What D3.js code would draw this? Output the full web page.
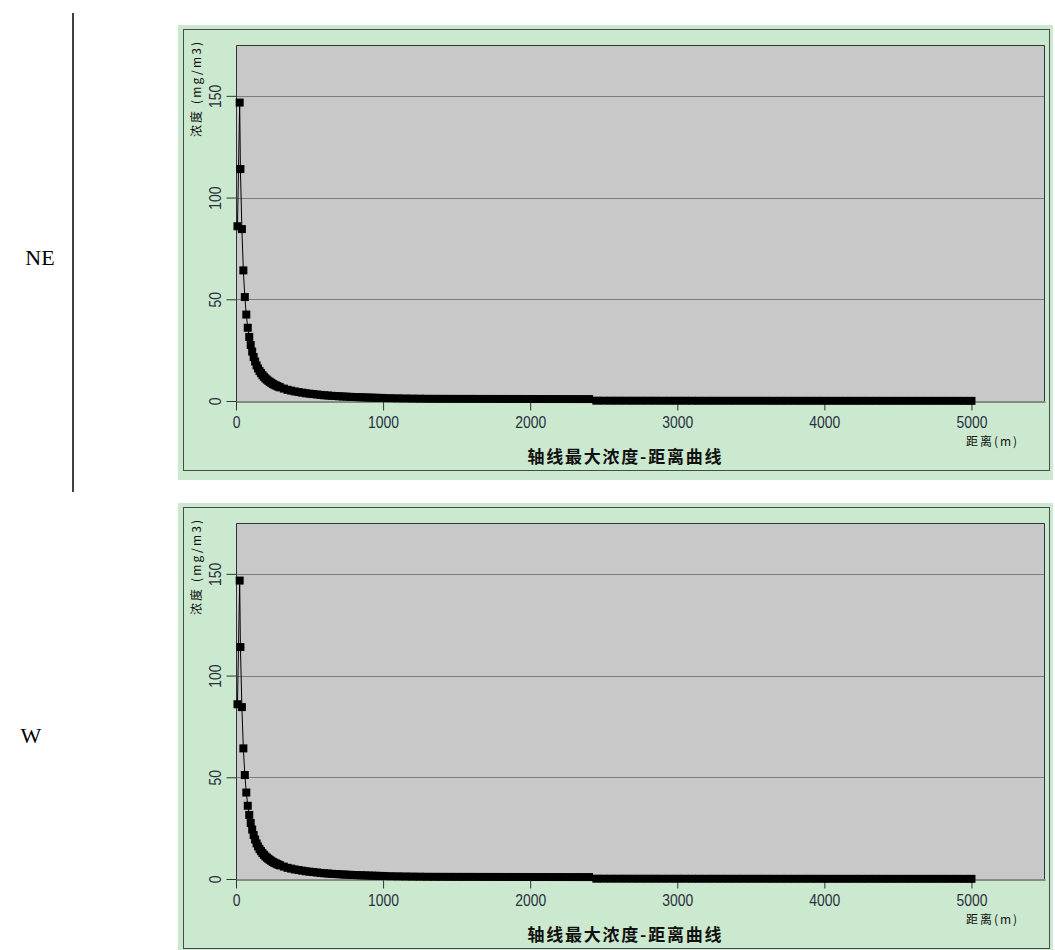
<!DOCTYPE html>
<html>
<head>
<meta charset="utf-8">
<title>轴线最大浓度-距离曲线</title>
<script src="https://cdn.jsdelivr.net/npm/d3@7"></script>
<style>
body { margin: 0; background: #fff; }
</style>
</head>
<body>
<script>

// values (distance in m, concentration in mg/m3)
var nearDist = [10, 25, 30, 40, 50, 60, 70, 80, 90, 100, 110, 120, 130, 140, 150,
                160, 170, 180, 190, 200, 210, 220, 230, 240, 250, 260, 270, 280, 290, 300];
var nearConc = [85.9, 146.7, 114.0, 84.5, 64.2, 51.1, 42.5, 36.0, 31.5, 27.5, 24.3, 21.6, 19.4, 17.5, 16.0,
                14.7, 13.7, 12.7, 11.9, 11.1, 10.5, 9.9, 9.4, 8.9, 8.4, 8.0, 7.7, 7.3, 7.0, 6.7];

var midDist = [325, 350, 375, 400, 425, 450, 475, 500, 525, 550, 575, 600, 625, 650,
               675, 700, 725, 750, 775, 800, 825, 850, 875, 900, 925, 950, 975, 1000];
var midConc = [6.1, 5.5, 5.1, 4.7, 4.4, 4.1, 3.8, 3.6, 3.4, 3.2, 3.0, 2.8, 2.7, 2.55,
               2.44, 2.33, 2.23, 2.13, 2.05, 1.97, 1.89, 1.83, 1.76, 1.70, 1.64, 1.59, 1.54, 1.49];

var farDist = [1050, 1100, 1150, 1200, 1250, 1300, 1350, 1400, 1450, 1500,
               1550, 1600, 1650, 1700, 1750, 1800, 1850, 1900, 1950, 2000,
               2050, 2100, 2150, 2200, 2250, 2300, 2350, 2400, 2450, 2500,
               2550, 2600, 2650, 2700, 2750, 2800, 2850, 2900, 2950, 3000,
               3050, 3100, 3150, 3200, 3250, 3300, 3350, 3400, 3450, 3500,
               3550, 3600, 3650, 3700, 3750, 3800, 3850, 3900, 3950, 4000,
               4050, 4100, 4150, 4200, 4250, 4300, 4350, 4400, 4450, 4500,
               4550, 4600, 4650, 4700, 4750, 4800, 4850, 4900, 4950, 5000];
var farConc = [1.40, 1.33, 1.26, 1.20, 1.15, 1.10, 1.08, 1.07, 1.06, 1.05,
               1.04, 1.04, 1.03, 1.02, 1.02, 1.01, 1.00, 1.00, 0.99, 0.99,
               0.98, 0.98, 0.97, 0.97, 0.96, 0.96, 0.95, 0.95, 0.16, 0.16,
               0.15, 0.15, 0.15, 0.14, 0.14, 0.14, 0.14, 0.13, 0.13, 0.13,
               0.13, 0.12, 0.12, 0.12, 0.12, 0.12, 0.11, 0.11, 0.11, 0.11,
               0.11, 0.11, 0.10, 0.10, 0.10, 0.10, 0.10, 0.10, 0.10, 0.09,
               0.09, 0.09, 0.09, 0.09, 0.09, 0.09, 0.09, 0.08, 0.08, 0.08,
               0.08, 0.08, 0.08, 0.08, 0.08, 0.08, 0.08, 0.08, 0.07, 0.07];

var xTicks = [0, 1000, 2000, 3000, 4000, 5000];
var yTicks = [0, 50, 100, 150];
var panelNames = ["NE", "W"];

var chartTitle = "轴线最大浓度-距离曲线";
var yTitle = "浓度 (mg/m3)";
var xTitle = "距离(m)";

var w = 1055, h = 950;

var dist = nearDist.concat(midDist, farDist);
var conc = nearConc.concat(midConc, farConc);
var points = dist.map(function(d, i) { return { d: d, c: conc[i] }; });

// row label x centres (the two labels don't sit at the same place)
var labelX = [40, 31];

var svg = d3.select("body").append("svg")
  .attr("width", w)
  .attr("height", h);

// table border line next to the first row label
svg.append("line")
  .attr("x1", 73).attr("x2", 73)
  .attr("y1", 13).attr("y2", 492)
  .attr("stroke", "#000")
  .attr("stroke-width", 1.5);

panelNames.forEach(function(name, k) {
  drawPanel(25 + k * 478, name, labelX[k]);
});

function drawPanel(top, name, lx) {
  var g = svg.append("g");

  // row label
  g.append("text")
    .attr("x", lx)
    .attr("y", top + 240)
    .attr("text-anchor", "middle")
    .attr("font-family", "'Liberation Serif', 'Times New Roman', serif")
    .attr("font-size", "22px")
    .attr("fill", "#000")
    .text(name);

  // green background + inner frame
  g.append("rect")
    .attr("x", 178).attr("y", top)
    .attr("width", 875).attr("height", 455)
    .attr("fill", "#cbe9ce");
  g.append("rect")
    .attr("x", 183.5).attr("y", top + 4.5)
    .attr("width", 866).attr("height", 441)
    .attr("fill", "none")
    .attr("stroke", "#4a4a4a");

  var x = d3.scaleLinear().domain([0, 5500]).range([236, 1045]);
  var y = d3.scaleLinear().domain([0, 175]).range([top + 376, top + 20]);

  // plot area
  g.append("rect")
    .attr("x", x(0)).attr("y", y(175))
    .attr("width", x(5500) - x(0))
    .attr("height", y(0) - y(175))
    .attr("fill", "#c8c8c8");

  // grid lines
  g.selectAll(".grid")
    .data(yTicks.filter(function(v) { return v > 0; }))
    .enter()
    .append("line")
    .attr("x1", x(0)).attr("x2", x(5500))
    .attr("y1", function(d) { return Math.round(y(d)) + 0.5; })
    .attr("y2", function(d) { return Math.round(y(d)) + 0.5; })
    .attr("stroke", "#7d7d7d");

  // plot border (top, left, right)
  g.append("path")
    .attr("d", "M" + (x(0) + 0.5) + "," + y(0) +
               "V" + (y(175) + 0.5) +
               "H" + (x(5500) - 0.5) +
               "V" + y(0))
    .attr("fill", "none")
    .attr("stroke", "#333");

  // y axis
  var yAxis = d3.axisLeft(y).tickValues(yTicks).tickFormat(d3.format("d"))
    .tickSize(10).tickSizeOuter(0);
  var gy = g.append("g")
    .attr("transform", "translate(" + (x(0) + 0.5) + ",0)")
    .call(yAxis);
  gy.select(".domain").remove();
  gy.selectAll("line").attr("stroke", "#333");
  gy.selectAll("text")
    .attr("x", 0)
    .attr("y", -16)
    .attr("dy", null)
    .attr("text-anchor", "middle")
    .attr("transform", "rotate(-90) scale(0.82,1)")
    .attr("font-family", "'Liberation Sans', Arial, sans-serif")
    .attr("font-size", "17px")
    .attr("fill", "#2a2f3f");

  // x axis
  var xAxis = d3.axisBottom(x).tickValues(xTicks).tickFormat(d3.format("d"))
    .tickSize(9).tickSizeOuter(0);
  var gx = g.append("g")
    .attr("transform", "translate(0," + (y(0) + 0.5) + ")")
    .call(xAxis);
  gx.select(".domain").attr("stroke", "#333");
  gx.selectAll("line").attr("stroke", "#333");
  gx.selectAll("text")
    .attr("y", 27)
    .attr("dy", null)
    .attr("transform", "scale(0.82,1)")
    .attr("font-family", "'Liberation Sans', Arial, sans-serif")
    .attr("font-size", "17px")
    .attr("fill", "#2a2f3f");

  // curve
  var line = d3.line()
    .x(function(p) { return x(p.d); })
    .y(function(p) { return y(p.c); });

  g.append("path")
    .datum(points)
    .attr("d", line)
    .attr("fill", "none")
    .attr("stroke", "#000")
    .attr("stroke-width", 1);

  g.selectAll(".pt")
    .data(points)
    .enter()
    .append("rect")
    .attr("x", function(p) { return x(p.d) - 4; })
    .attr("y", function(p) { return y(p.c) - 4; })
    .attr("width", 8)
    .attr("height", 8)
    .attr("fill", "#000");

  // axis titles
  g.append("text")
    .attr("transform", "translate(201," + (top + 112) + ") rotate(-90)")
    .attr("font-family", "'Noto Sans CJK SC', sans-serif")
    .attr("font-size", "12px")
    .attr("textLength", 95)
    .attr("lengthAdjust", "spacing")
    .attr("fill", "#111")
    .text(yTitle);

  g.append("text")
    .attr("x", 966)
    .attr("y", top + 421)
    .attr("font-family", "'Noto Sans CJK SC', sans-serif")
    .attr("font-size", "12px")
    .attr("textLength", 51)
    .attr("lengthAdjust", "spacing")
    .attr("fill", "#111")
    .text(xTitle);

  // chart title
  g.append("text")
    .attr("x", 624.5)
    .attr("y", top + 438)
    .attr("text-anchor", "middle")
    .attr("font-family", "'Noto Sans CJK SC', sans-serif")
    .attr("font-weight", "bold")
    .attr("font-size", "17px")
    .attr("textLength", 194)
    .attr("lengthAdjust", "spacing")
    .attr("fill", "#111")
    .text(chartTitle);
}

</script>
</body>
</html>
